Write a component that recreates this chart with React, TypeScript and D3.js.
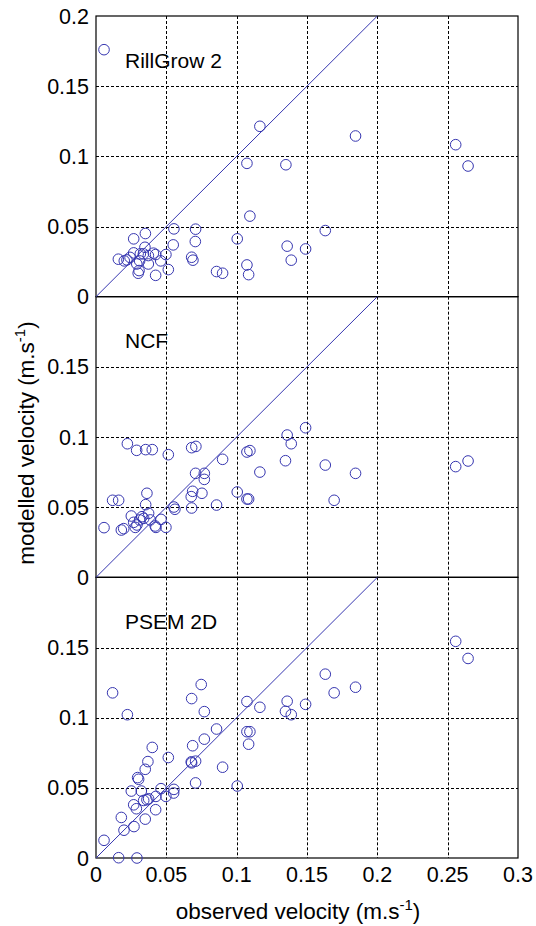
import React from "react";
import * as d3 from "d3";

const panelNames = ["RillGrow 2", "NCF", "PSEM 2D"];

const rillObs = [0.0057,0.1165,0.1845,0.2557,0.2645,0.1073,0.135,0.1094,0.163,0.1004,0.1359,0.149,0.1388,0.1073,0.1085,0.0857,0.09,0.0708,0.0706,0.068,0.0689,0.0554,0.0549,0.0514,0.0497,0.046,0.0424,0.0351,0.0268,0.0159,0.0201,0.022,0.0268,0.0337,0.0348,0.0372,0.0408,0.0424,0.0306,0.030,0.0372,0.029,0.0242,0.031,0.0315];
const rillMod = [0.176,0.1214,0.1145,0.1083,0.0931,0.095,0.094,0.0574,0.0471,0.0412,0.036,0.034,0.026,0.0226,0.0157,0.0179,0.0167,0.0481,0.0393,0.0281,0.026,0.0483,0.0369,0.0193,0.030,0.0255,0.0152,0.045,0.0412,0.0267,0.0255,0.0262,0.0312,0.0305,0.0352,0.0293,0.031,0.030,0.0186,0.0167,0.0233,0.0233,0.028,0.0255,0.0305];

const ncfObs = [0.0223,0.0289,0.0353,0.040,0.0514,0.068,0.071,0.090,0.1073,0.1094,0.1359,0.1388,0.149,0.1347,0.163,0.1845,0.2557,0.2645,0.1165,0.1693,0.1004,0.1073,0.1085,0.0857,0.0708,0.077,0.077,0.0753,0.0687,0.0677,0.068,0.0554,0.0561,0.0362,0.0353,0.0118,0.0161,0.0057,0.018,0.0197,0.0251,0.0268,0.0279,0.0291,0.031,0.0339,0.0374,0.0386,0.0421,0.0426,0.0462,0.0497,0.0327];
const ncfMod = [0.0952,0.0905,0.091,0.091,0.0874,0.0924,0.0933,0.0841,0.0893,0.0903,0.1014,0.0952,0.1066,0.0831,0.080,0.0741,0.0789,0.0829,0.075,0.0549,0.0608,0.0558,0.0558,0.0515,0.0741,0.0741,0.0698,0.0599,0.0613,0.0575,0.0494,0.0501,0.0485,0.0599,0.0518,0.0549,0.0549,0.0354,0.0337,0.0347,0.0437,0.0392,0.0356,0.0373,0.0409,0.042,0.0456,0.0409,0.0366,0.0356,0.0413,0.0356,0.0432];

const psemObs = [0.2557,0.2645,0.163,0.1845,0.1693,0.149,0.1359,0.1347,0.1388,0.1073,0.1165,0.1073,0.1094,0.1085,0.1004,0.090,0.0857,0.0748,0.077,0.068,0.077,0.0687,0.0677,0.0708,0.068,0.0708,0.0514,0.0554,0.0552,0.0462,0.0497,0.0426,0.040,0.0369,0.035,0.0296,0.0303,0.0118,0.0223,0.0251,0.0322,0.0268,0.0287,0.0339,0.0362,0.0374,0.0424,0.035,0.018,0.027,0.0199,0.0057,0.0161,0.0291];
const psemMod = [0.1544,0.1422,0.131,0.1217,0.1177,0.1095,0.1117,0.1045,0.1021,0.1115,0.1074,0.090,0.090,0.0811,0.0513,0.0647,0.0919,0.1236,0.1043,0.1136,0.0847,0.080,0.0685,0.069,0.0678,0.0535,0.0716,0.0489,0.0463,0.0494,0.0439,0.0439,0.0788,0.0687,0.0632,0.0573,0.0561,0.1177,0.1021,0.0477,0.0477,0.0379,0.0351,0.041,0.0415,0.0422,0.0344,0.0277,0.0289,0.0224,0.0198,0.0126,0.0002,0.0];

const xTicks = [0, 0.05, 0.1, 0.15, 0.2, 0.25, 0.3];
const xTickLabels = ["0", "0.05", "0.1", "0.15", "0.2", "0.25", "0.3"];
const yTicks = [0, 0.05, 0.1, 0.15, 0.2];
const yTickLabels = ["0", "0.05", "0.1", "0.15", "0.2"];
const diagonal = [0, 0.2];

const W = 536, H = 926;
const left = 96, right = 518, top = 16, bottom = 858;
const panelH = (bottom - top) / 3;
const blue = "#3636b0";
const font = "'Liberation Sans', Arial, Helvetica, sans-serif";

export default function App() {
  const x = d3.scaleLinear().domain([0, 0.3]).range([left, right]);
  const panels = [
    { name: panelNames[0], obs: rillObs, mod: rillMod },
    { name: panelNames[1], obs: ncfObs, mod: ncfMod },
    { name: panelNames[2], obs: psemObs, mod: psemMod },
  ];
  return (
    <svg width={W} height={H} style={{ position: "absolute", left: 0, top: 0, background: "#fff" }} fontFamily={font}>
      <rect x={0} y={0} width={W} height={H} fill="#fff" />
      {panels.map((p, i) => {
        const t = top + i * panelH;
        const y = d3.scaleLinear().domain([0, 0.2]).range([t + panelH, t]);
        return (
          <g key={i}>
            {xTicks.slice(1, -1).map((v) => (
              <line key={"gx" + v} x1={Math.round(x(v)) + 0.5} x2={Math.round(x(v)) + 0.5} y1={t} y2={t + panelH} stroke="#000" strokeWidth={1} strokeDasharray="3,2" />
            ))}
            {yTicks.slice(1, -1).map((v) => (
              <line key={"gy" + v} x1={left} x2={right} y1={Math.round(y(v)) + 0.5} y2={Math.round(y(v)) + 0.5} stroke="#000" strokeWidth={1} strokeDasharray="3,2" />
            ))}
            {yTicks.map((v, k) =>
              (k < yTicks.length - 1 || i === 0) ? (
                <text key={"yl" + v} x={89} y={y(v) + 7.5} textAnchor="end" fontSize={21.5}>{yTickLabels[k]}</text>
              ) : null
            )}
            <rect x={left} y={t} width={right - left} height={panelH} fill="none" stroke="#000" strokeWidth={1.2} />
            <text x={125} y={t + 51.5} fontSize={21}>{p.name}</text>
          </g>
        );
      })}
      {panels.map((p, i) => {
        const t = top + i * panelH;
        const y = d3.scaleLinear().domain([0, 0.2]).range([t + panelH, t]);
        const line = d3.line<number>().x((d) => x(d)).y((d) => y(d));
        return (
          <g key={"d" + i}>
            <path d={line(diagonal) || ""} stroke={blue} strokeWidth={1} fill="none" />
            {p.obs.map((o, k) => (
              <circle key={k} cx={x(o)} cy={y(p.mod[k])} r={5.3} fill="none" stroke={blue} strokeWidth={1} />
            ))}
          </g>
        );
      })}
      {xTicks.map((v, k) => (
        <text key={"xl" + v} x={x(v)} y={882} textAnchor="middle" fontSize={21.5}>{xTickLabels[k]}</text>
      ))}
      <text x={298} y={919} textAnchor="middle" fontSize={22.5}>
        observed velocity (m.s<tspan dy={-9} fontSize={15}>-1</tspan><tspan dy={9}>)</tspan>
      </text>
      <text transform={`translate(34,${443}) rotate(-90)`} textAnchor="middle" fontSize={22.5}>
        modelled velocity (m.s<tspan dy={-9} fontSize={15}>-1</tspan><tspan dy={9}>)</tspan>
      </text>
    </svg>
  );
}
